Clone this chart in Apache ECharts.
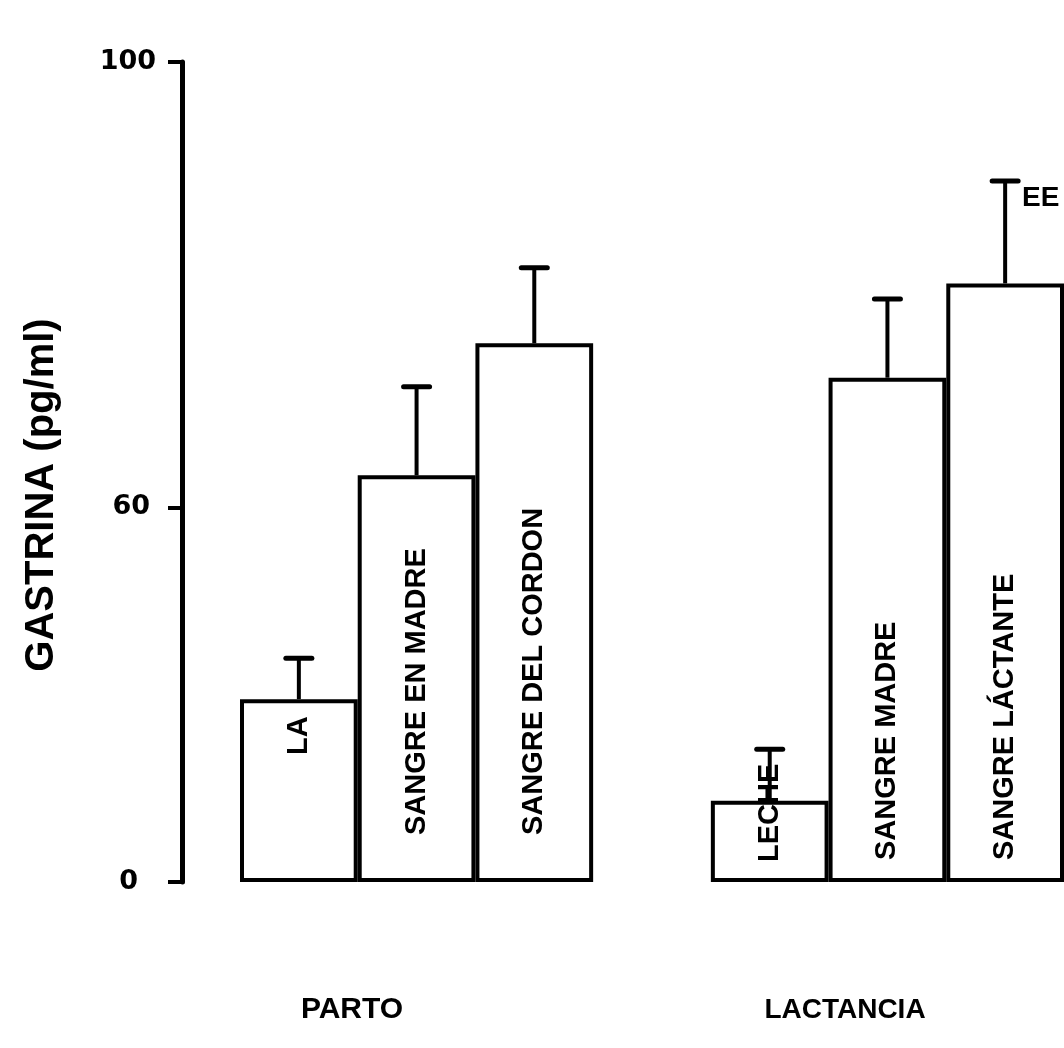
<!DOCTYPE html>
<html>
<head>
<meta charset="utf-8">
<script src="https://cdn.jsdelivr.net/npm/echarts@6/dist/echarts.min.js"></script>
<style>
html,body{margin:0;padding:0;background:#fff;}
#chart{width:1064px;height:1048px;}
</style>
</head>
<body>
<div id="chart"></div>
<script>
// ---- data ----
const categories = ['LA', 'SANGRE EN MADRE', 'SANGRE DEL CORDON', '', 'LECHE', 'SANGRE MADRE', 'SANGRE LÁCTANTE'];
const means      = [22.3, 49.6, 65.7, null, 9.9, 61.5, 73.0];
const errTops    = [27.3, 60.4, 74.9, null, 16.2, 71.1, 85.5];
const yTickValues = [0, 45.7, 100];
const yTickLabels = ['0', '60', '100'];
const groupNames = ['PARTO', 'LACTANCIA'];
const yTitle = 'GASTRINA (pg/ml)';
const errNote = 'EE';

// ---- styling helpers ----
const labelDistance = [127, 47, 47, 0, 20, 22, 22];
const FONT = '"Liberation Sans", Arial, sans-serif';

const barData = means.map((v, i) => v == null ? '-' : ({
  value: v,
  label: { distance: labelDistance[i] }
}));
const errData = [];
means.forEach((v, i) => { if (v != null) errData.push([i, v, errTops[i]]); });

const chart = echarts.init(document.getElementById('chart'));
chart.setOption({
  animation: false,
  backgroundColor: '#fff',
  grid: { left: 240, top: 62, bottom: 166, width: 826, containLabel: false },
  xAxis: {
    type: 'category', data: categories,
    axisLine: { show: false }, axisTick: { show: false }, axisLabel: { show: false },
    splitLine: { show: false }
  },
  yAxis: {
    type: 'value', min: 0, max: 100, offset: 58,
    axisLine: { show: true, lineStyle: { color: '#000', width: 5 } },
    axisTick: { show: true, customValues: yTickValues, length: 14, lineStyle: { color: '#000', width: 4 } },
    axisLabel: {
      show: true, customValues: yTickValues, margin: 26,
      formatter: v => { const k = yTickValues.indexOf(v); return k >= 0 ? '{t' + k + '|' + yTickLabels[k] + '}' : ''; },
      rich: {
        t0: { padding: [0, 18, 0, 0] },
        t1: { padding: [0, 6, 0, 0] },
        t2: { padding: [0, 0, 0, 0] }
      },
      color: '#000', fontFamily: 'DejaVu Sans', fontWeight: 'bold', fontSize: 27
    },
    splitLine: { show: false }
  },
  series: [
    {
      type: 'bar', data: barData, barCategoryGap: '0%',
      itemStyle: { color: '#fff', borderColor: '#000', borderWidth: 4 },
      label: {
        show: true, position: 'insideBottom', rotate: 90, align: 'left', verticalAlign: 'middle',
        formatter: p => p.name, color: '#000', fontFamily: FONT, fontWeight: 'bold', fontSize: 29
      }
    },
    {
      type: 'custom', data: errData, z: 5,
      renderItem: (params, api) => {
        const base = api.coord([api.value(0), api.value(1)]);
        const top = api.coord([api.value(0), api.value(2)]);
        const cw = 13;
        return {
          type: 'group', children: [
            { type: 'line', shape: { x1: base[0], y1: base[1], x2: top[0], y2: top[1] }, style: { stroke: '#000', lineWidth: 4 } },
            { type: 'line', shape: { x1: top[0] - cw, y1: top[1], x2: top[0] + cw, y2: top[1] }, style: { stroke: '#000', lineWidth: 5, lineCap: 'round' } }
          ]
        };
      }
    }
  ],
  graphic: [
    { type: 'text', x: 42, y: 495, rotation: Math.PI / 2,
      style: { text: yTitle, align: 'center', verticalAlign: 'middle', fill: '#000', font: 'bold 40px "Liberation Sans"' } },
    { type: 'text', x: 352, y: 1010,
      style: { text: groupNames[0], align: 'center', verticalAlign: 'middle', fill: '#000', font: 'bold 30px "Liberation Sans"' } },
    { type: 'text', x: 845, y: 1010,
      style: { text: groupNames[1], align: 'center', verticalAlign: 'middle', fill: '#000', font: 'bold 28px "Liberation Sans"' } },
    { type: 'text', x: 1022, y: 198,
      style: { text: errNote, align: 'left', verticalAlign: 'middle', fill: '#000', font: 'bold 28px "Liberation Sans"' } }
  ]
});
</script>
</body>
</html>
